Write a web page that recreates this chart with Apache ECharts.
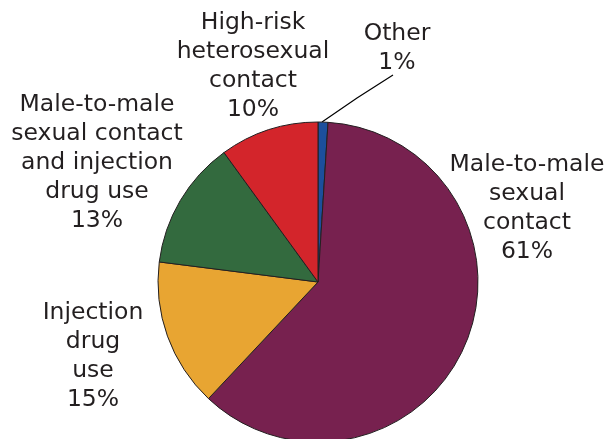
<!DOCTYPE html>
<html>
<head>
<meta charset="utf-8">
<style>
html,body{margin:0;padding:0;background:#fff;}
#chart{width:610px;height:439px;}
</style>
<script src="https://cdn.jsdelivr.net/npm/echarts@6/dist/echarts.min.js"></script>
</head>
<body>
<div id="chart"></div>
<script>
// Categories in clockwise order starting at 12 o'clock
var categories = ['Other', 'Male-to-male sexual contact', 'Injection drug use', 'Male-to-male sexual contact and injection drug use', 'High-risk heterosexual contact'];
var labelText = ['Other', 'Male-to-male\nsexual\ncontact', 'Injection\ndrug\nuse', 'Male-to-male\nsexual contact\nand injection\ndrug use', 'High-risk\nheterosexual\ncontact'];
var values = [1, 61, 15, 13, 10];
var colors = ['#1c4f9c', '#77214f', '#e8a532', '#336a3e', '#d3252b'];

// label anchor positions (layout, not data)
var labelPos = [[397, 48], [527, 208], [93, 356], [97, 163], [253, 66]];

var chart = echarts.init(document.getElementById('chart'), null, {renderer: 'canvas'});

var data = categories.map(function (c, i) {
  return {
    name: c,
    value: values[i],
    itemStyle: {color: colors[i]},
    labelLine: {show: i === 0}
  };
});

chart.setOption({
  animation: false,
  series: [{
    type: 'pie',
    center: [318, 282],
    radius: 160,
    startAngle: 90,
    clockwise: true,
    data: data,
    itemStyle: {borderColor: '#231f20', borderWidth: 1},
    label: {
      show: true,
      position: 'outside',
      overflow: 'none',
      formatter: function (p) { return labelText[p.dataIndex] + '\n' + p.value + '%'; },
      fontFamily: 'DejaVu Sans',
      fontSize: 23.5,
      lineHeight: 29,
      color: '#231f20',
      align: 'center'
    },
    labelLine: {
      show: false,
      lineStyle: {color: '#000', width: 1.2}
    },
    emphasis: {disabled: true},
    labelLayout: function (params) {
      var p = labelPos[params.dataIndex];
      var res = {x: p[0], y: p[1], align: 'center', verticalAlign: 'middle'};
      if (params.dataIndex === 0) {
        res.labelLinePoints = [[322, 122], [357, 98], [393, 75]];
      }
      return res;
    }
  }]
});
</script>
</body>
</html>
